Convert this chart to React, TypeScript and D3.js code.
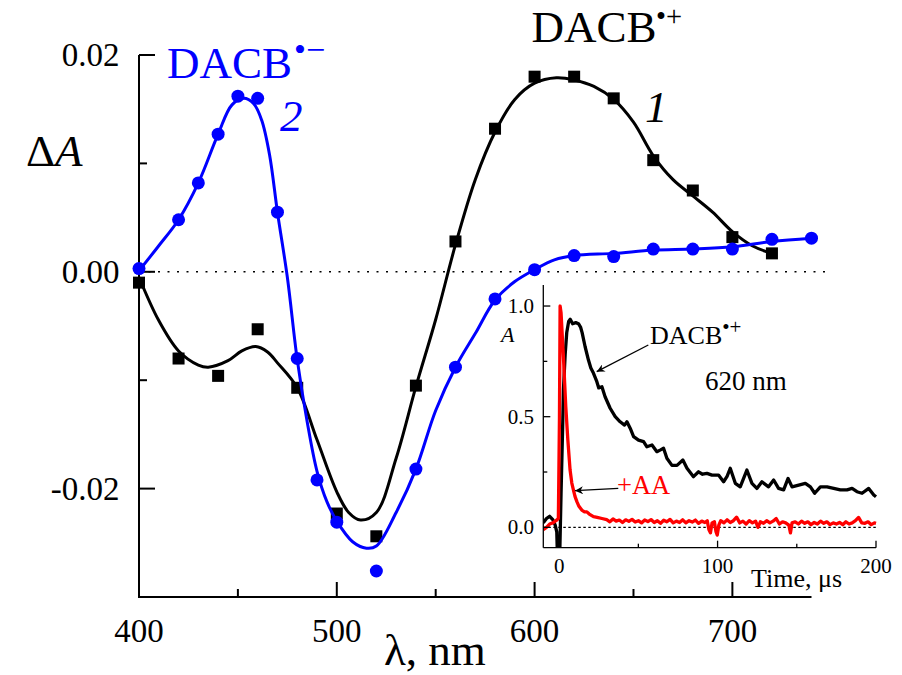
import React from "react";
import * as d3 from "d3";

// ---- main spectra: measured points ----
const blackPoints: [number, number][] = [
  [400, -0.0010], [420, -0.0080], [440, -0.0096], [460, -0.0053], [480, -0.0107],
  [500, -0.0223], [520, -0.0244], [540, -0.0105], [560, 0.0028], [580, 0.0132],
  [600, 0.0180], [620, 0.0180], [640, 0.0160], [660, 0.0103], [680, 0.0075],
  [700, 0.0032], [720, 0.0017],
];
const bluePoints: [number, number][] = [
  [400, 0.0003], [420, 0.0048], [430, 0.0082], [440, 0.0127], [450, 0.0162],
  [460, 0.0160], [470, 0.0055], [480, -0.0080], [490, -0.0192], [500, -0.0231],
  [520, -0.0276], [540, -0.0182], [560, -0.0088], [580, -0.0025], [600, 0.0002],
  [620, 0.0015], [640, 0.0014], [660, 0.0021], [680, 0.0021], [700, 0.0021],
  [720, 0.0030], [740, 0.0031],
];
// ---- fitted curves ----
const blackFit: [number, number][] = [
  [400, -0.0005], [410, -0.0045], [420, -0.0073], [430, -0.0086], [435, -0.0088],
  [445, -0.0082], [452, -0.0073], [459, -0.0069], [465, -0.0074], [470, -0.0084],
  [480, -0.0107], [490, -0.0155], [500, -0.0203], [506, -0.0222], [512, -0.0229],
  [520, -0.0222], [530, -0.0172], [540, -0.0106], [550, -0.0044], [560, 0.0025],
  [570, 0.0085], [580, 0.0129], [590, 0.0159], [600, 0.0174], [611, 0.0179],
  [620, 0.0177], [630, 0.0171], [640, 0.0159], [650, 0.0138], [660, 0.0107],
  [670, 0.0085], [680, 0.0070], [690, 0.0055], [700, 0.0037], [710, 0.0024],
  [720, 0.0017],
];
const blueFit: [number, number][] = [
  [400, 0.0001], [410, 0.0024], [420, 0.0048], [430, 0.0082], [440, 0.0127],
  [447, 0.0154], [453, 0.0160], [458, 0.0155], [462, 0.0140], [466, 0.0108],
  [470, 0.0055], [475, -0.0005], [480, -0.0081], [485, -0.0138], [490, -0.0184],
  [495, -0.0212], [500, -0.0230], [508, -0.0249], [515, -0.0255], [520, -0.0253],
  [530, -0.0222], [540, -0.0182], [550, -0.0128], [560, -0.0088], [570, -0.0057],
  [580, -0.0026], [590, -0.0009], [600, 0.0002], [610, 0.0011], [620, 0.0015],
  [640, 0.0017], [660, 0.0020], [680, 0.0021], [700, 0.0023], [720, 0.0028],
  [740, 0.0031],
];
const xMajor = [400, 500, 600, 700];
const xMinor = [450, 550, 650];
const yMajor = [-0.02, 0.0, 0.02];
const yMajorLabels = ["-0.02", "0.00", "0.02"];
const yMinor = [-0.01, 0.01];

// ---- inset kinetics ----
const kinBlack: [number, number][] = [
  [-10, 0.02], [-8, 0.04], [-6, 0.05], [-4, 0.035], [-2.5, 0.01], [-1.5, -0.02],
  [-1.0, -0.15], [0.3, -0.15], [1.2, 0.15], [2.2, 0.45], [2.7, 0.62], [3.8, 0.78],
  [4.8, 0.88], [6.0, 0.93], [7.0, 0.94], [8.5, 0.92], [10.5, 0.925], [12.2, 0.92],
  [13.5, 0.905], [14.5, 0.88], [16.4, 0.816], [18.5, 0.756], [20, 0.72], [21.7, 0.696],
  [23.8, 0.658], [25, 0.63], [27, 0.635], [29, 0.59], [32.2, 0.538], [35.4, 0.5],
  [38.5, 0.477], [41.3, 0.462], [42.8, 0.477], [44.9, 0.447], [47, 0.41], [50.1, 0.394],
  [53.3, 0.387], [55.4, 0.364], [58.6, 0.372], [61.7, 0.342], [64, 0.35], [65.9, 0.357],
  [68, 0.312], [71.2, 0.28], [74.4, 0.28], [78.1, 0.304], [80.7, 0.267], [84.8, 0.229],
  [88, 0.251], [90.5, 0.24], [93.3, 0.244], [96.5, 0.236], [100.6, 0.236], [103.8, 0.206],
  [106, 0.23], [108, 0.267], [111.2, 0.199], [114.3, 0.183], [118.5, 0.259], [121.7, 0.199],
  [124.8, 0.176], [128, 0.206], [132.2, 0.183], [135.4, 0.214], [138.5, 0.176], [141.7, 0.169],
  [144.5, 0.221], [147, 0.183], [151.2, 0.191], [155.4, 0.199], [158.6, 0.183], [161.3, 0.154],
  [164.9, 0.183], [169.1, 0.183], [173.3, 0.176], [177.5, 0.169], [181.7, 0.169], [184.9, 0.176],
  [188, 0.161], [191.2, 0.154], [195.4, 0.176], [198.6, 0.146], [200, 0.138],
];
const kinRed: [number, number][] = [
  [-10, -0.01], [-8, 0.0], [-6, 0.015], [-4, 0.02], [-2, 0.03], [-0.5, 0.04], [0.2, 0.5],
  [0.6, 1.0], [1.2, 0.97], [2.1, 0.85], [2.7, 0.77], [3.5, 0.65], [4.2, 0.545], [5.5, 0.394],
  [6.9, 0.259], [8, 0.2], [9, 0.169], [10, 0.14], [11.2, 0.116], [12.5, 0.095], [14.3, 0.078],
  [16, 0.07], [17.5, 0.07], [19, 0.06], [21.7, 0.048], [24, 0.045], [27, 0.04],
  [30, 0.035], [32, 0.025], [34, 0.038], [36, 0.028], [38, 0.033], [40, 0.022], [42, 0.034],
  [44, 0.027], [46, 0.036], [48, 0.024], [50, 0.03], [52, 0.02], [54, 0.033], [56, 0.026],
  [58, 0.035], [60, 0.022], [62, 0.03], [64, 0.018], [66, 0.032], [68, 0.025], [70, 0.036],
  [72, 0.02], [74, 0.028], [76, 0.022], [78, 0.034], [80, 0.02], [82, 0.03], [84, 0.024],
  [86, 0.033], [88, 0.018], [90, 0.028], [92, 0.022], [93.5, 0.03], [94.5, -0.01],
  [95.5, -0.025], [96.5, 0.02], [98, 0.025], [99, -0.02], [99.8, -0.035], [100.8, 0.01],
  [102, 0.03], [104, 0.02], [106, 0.034], [108, 0.022], [110, 0.03], [112, 0.046],
  [114, 0.02], [116, 0.028], [118, 0.015], [120, 0.03], [122, 0.02], [124, 0.028],
  [125.5, 0.0], [127, 0.025], [129, 0.018], [131, 0.03], [133, 0.02], [135, 0.028],
  [137, 0.04], [139, 0.015], [141, 0.025], [143, 0.02], [145, 0.01], [146, -0.025],
  [147, 0.02], [149, 0.025], [151, 0.015], [153, 0.028], [155, 0.018], [157, 0.025],
  [159, 0.012], [161, 0.022], [163, 0.015], [165, 0.028], [167, 0.018], [169, 0.025],
  [171, 0.012], [173, 0.02], [175, 0.015], [177, 0.022], [179, 0.012], [181, 0.025],
  [183, 0.015], [185, 0.02], [187, 0.03], [189, 0.045], [191, 0.02], [193, 0.018],
  [195, 0.025], [197, 0.012], [199, 0.02], [200, 0.018],
];
const inXMajor = [0, 100, 200];
const inXMinor = [50, 150];
const inYMajor = [0, 0.5, 1.0];
const inYMajorLabels = ["0.0", "0.5", "1.0"];
const inYMinor = [0.25, 0.75];

const FONT = "Liberation Serif, Times New Roman, serif";
const BLUE = "#0000ff";
const RED = "#ff0000";

export default function App() {
  const x = d3.scaleLinear().domain([400, 740]).range([139, 811.5]);
  const y = d3.scaleLinear().domain([-0.03, 0.02]).range([597, 55]);

  const fitLine = d3
    .line<[number, number]>()
    .x((d) => x(d[0]))
    .y((d) => y(d[1]))
    .curve(d3.curveCatmullRom.alpha(0.5));

  const ix = d3.scaleLinear().domain([-10, 200]).range([543.3, 876]);
  const iy = d3.scaleLinear().domain([-0.092, 1.095]).range([547.7, 285]);
  const kinLine = d3
    .line<[number, number]>()
    .x((d) => ix(d[0]))
    .y((d) => iy(d[1]));

  const y0 = y(0);
  const iy0 = iy(0);
  const tf = { fontFamily: FONT };

  return (
    <svg
      width={902}
      height={675}
      style={{ position: "absolute", left: 0, top: 0, display: "block", background: "#fff" }}
    >
      <defs>
        <clipPath id="insetClip">
          <rect x={ix(-10)} y={iy(1.095) - 5} width={ix(200) - ix(-10) + 3} height={iy(-0.092) - iy(1.095) + 5} />
        </clipPath>
        <marker id="arrowHead" viewBox="0 0 10 10" refX="10" refY="5" markerWidth="11" markerHeight="8" markerUnits="userSpaceOnUse" orient="auto">
          <path d="M0,0 L10,5 L0,10 L3,5 z" fill="#000" />
        </marker>
      </defs>

      {/* zero dotted line */}
      <line x1={x(400)} x2={x(747)} y1={y0} y2={y0} stroke="#000" strokeWidth={1.6} strokeDasharray="2,7.5" />

      {/* main axes */}
      <line x1={x(400)} x2={x(400)} y1={y(0.02)} y2={y(-0.03)} stroke="#000" strokeWidth={2} />
      <line x1={x(400) - 1} x2={x(740)} y1={y(-0.03)} y2={y(-0.03)} stroke="#000" strokeWidth={2} />
      {xMajor.slice(1).map((t) => (
        <line key={"xM" + t} x1={x(t)} x2={x(t)} y1={y(-0.03)} y2={y(-0.03) - 15} stroke="#000" strokeWidth={2} />
      ))}
      {xMinor.map((t) => (
        <line key={"xm" + t} x1={x(t)} x2={x(t)} y1={y(-0.03)} y2={y(-0.03) - 8} stroke="#000" strokeWidth={2} />
      ))}
      {yMajor.map((t) => (
        <line key={"yM" + t} x1={x(400)} x2={x(400) + 16} y1={y(t)} y2={y(t)} stroke="#000" strokeWidth={2} />
      ))}
      {yMinor.map((t) => (
        <line key={"ym" + t} x1={x(400)} x2={x(400) + 8} y1={y(t)} y2={y(t)} stroke="#000" strokeWidth={2} />
      ))}
      {xMajor.map((t) => (
        <text key={"xl" + t} style={tf} x={x(t)} y={642} fontSize={33} textAnchor="middle" fill="#000">
          {t}
        </text>
      ))}
      {yMajor.map((t, i) => (
        <text key={"yl" + t} style={tf} x={119.5} y={y(t) + 11} fontSize={33} textAnchor="end" fill="#000">
          {yMajorLabels[i]}
        </text>
      ))}
      <text style={tf} x={384} y={664.5} fontSize={45} fill="#000">λ, nm</text>
      <text style={tf} x={26} y={166} fontSize={45} fill="#000">
        Δ<tspan fontStyle="italic">A</tspan>
      </text>

      {/* series 1 (black) */}
      <path d={fitLine(blackFit) || ""} fill="none" stroke="#000" strokeWidth={3} />
      {blackPoints.map((d, i) => (
        <rect key={"bp" + i} x={x(d[0]) - 6} y={y(d[1]) - 6} width={12} height={12} fill="#000" />
      ))}

      {/* series 2 (blue) */}
      <path d={fitLine(blueFit) || ""} fill="none" stroke={BLUE} strokeWidth={3} />
      {bluePoints.map((d, i) => (
        <circle key={"cp" + i} cx={x(d[0])} cy={y(d[1])} r={6.5} fill={BLUE} />
      ))}

      {/* labels */}
      <text style={tf} x={167} y={78} fontSize={45} fill={BLUE}>DACB</text>
      <text style={tf} x={294} y={61} fontSize={34} fill={BLUE}>•−</text>
      <text style={tf} x={280} y={131} fontSize={45} fontStyle="italic" fill={BLUE}>2</text>

      <text style={tf} x={531.5} y={42} fontSize={45} fill="#000">DACB</text>
      <text style={tf} x={656} y={25.5} fontSize={28.5} fill="#000">•+</text>
      <text style={tf} x={645} y={122} fontSize={45} fontStyle="italic" fill="#000">1</text>

      {/* ---- inset ---- */}
      <line x1={ix(-10)} x2={ix(200)} y1={iy0} y2={iy0} stroke="#000" strokeWidth={1.2} strokeDasharray="2.5,2.5" />
      <g clipPath="url(#insetClip)">
        <path d={kinLine(kinBlack) || ""} fill="none" stroke="#000" strokeWidth={3.3} strokeLinejoin="round" />
        <path d={kinLine(kinRed) || ""} fill="none" stroke={RED} strokeWidth={3.3} strokeLinejoin="round" />
      </g>
      <line x1={ix(-10)} x2={ix(-10)} y1={iy(1.095)} y2={iy(-0.092)} stroke="#000" strokeWidth={1.3} />
      <line x1={ix(-10)} x2={ix(200)} y1={iy(-0.092)} y2={iy(-0.092)} stroke="#000" strokeWidth={1.3} />
      {inXMajor.map((t) => (
        <line key={"ixM" + t} x1={ix(t)} x2={ix(t)} y1={iy(-0.092)} y2={iy(-0.092) - 7} stroke="#000" strokeWidth={1.3} />
      ))}
      {inXMinor.map((t) => (
        <line key={"ixm" + t} x1={ix(t)} x2={ix(t)} y1={iy(-0.092)} y2={iy(-0.092) - 4} stroke="#000" strokeWidth={1.3} />
      ))}
      {inYMajor.map((t) => (
        <line key={"iyM" + t} x1={ix(-10)} x2={ix(-10) + 7} y1={iy(t)} y2={iy(t)} stroke="#000" strokeWidth={1.3} />
      ))}
      {inYMinor.map((t) => (
        <line key={"iym" + t} x1={ix(-10)} x2={ix(-10) + 4} y1={iy(t)} y2={iy(t)} stroke="#000" strokeWidth={1.3} />
      ))}
      {inXMajor.map((t) => (
        <text key={"ixl" + t} style={tf} x={ix(t)} y={572.5} fontSize={21} textAnchor="middle" fill="#000">
          {t}
        </text>
      ))}
      {inYMajor.map((t, i) => (
        <text key={"iyl" + t} style={tf} x={534} y={iy(t) + 7} fontSize={21} textAnchor="end" fill="#000">
          {inYMajorLabels[i]}
        </text>
      ))}
      <text style={tf} x={501} y={342} fontSize={22} fontStyle="italic" fill="#000">A</text>
      <text style={tf} x={751} y={587} fontSize={26} fill="#000">Time, μs</text>

      <text style={tf} x={650} y={343.5} fontSize={26} fill="#000">
        DACB<tspan fontSize={21} dy={-10}>•+</tspan>
      </text>
      <text style={tf} x={705} y={390} fontSize={27} fill="#000">620 nm</text>
      <text style={tf} x={617} y={493.5} fontSize={26.5} fill={RED}>+AA</text>

      <line x1={648.3} y1={345} x2={596.7} y2={371.7} stroke="#000" strokeWidth={1.3} markerEnd="url(#arrowHead)" />
      <line x1={618.3} y1={488.3} x2={575} y2={490.7} stroke="#000" strokeWidth={1.3} markerEnd="url(#arrowHead)" />
    </svg>
  );
}
